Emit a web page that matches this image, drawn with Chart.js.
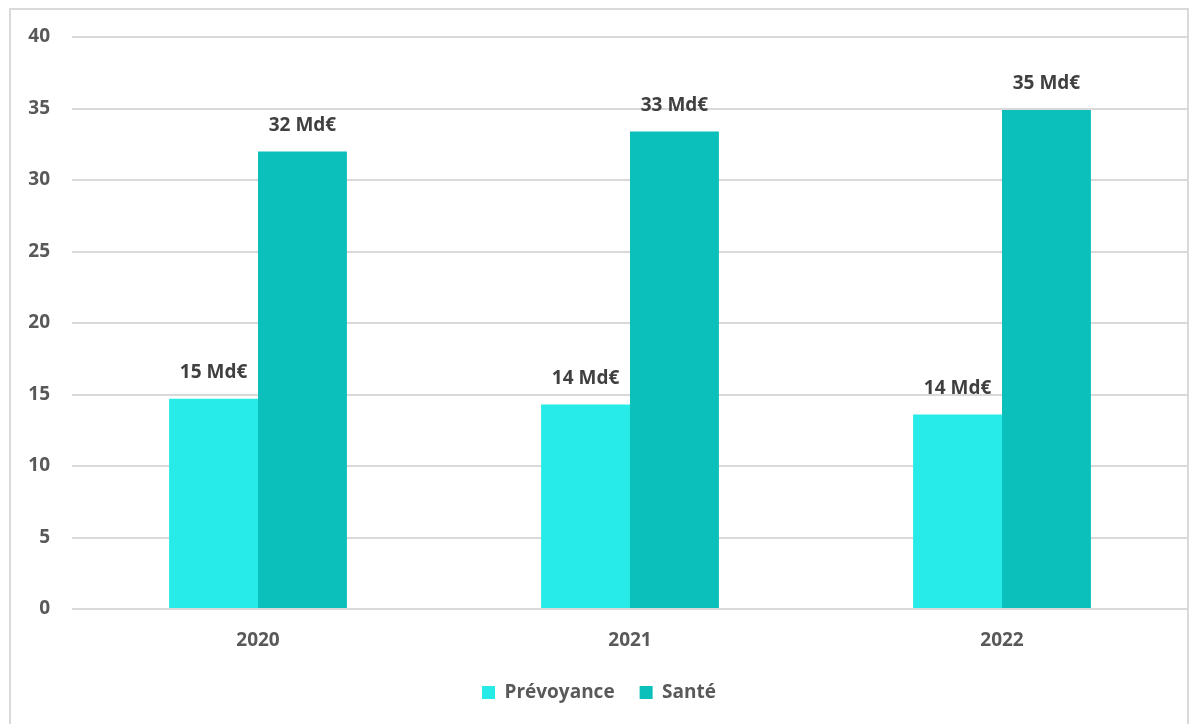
<!DOCTYPE html>
<html><head><meta charset="utf-8">
<script src="https://cdn.jsdelivr.net/npm/chart.js@4"></script>
<style>
html,body{margin:0;padding:0;background:#fff;}
#frame{position:absolute;left:9px;top:8px;width:1180px;height:730px;border:2px solid #d9d9d9;box-sizing:border-box;}
#wrap{position:absolute;left:0;top:0;width:1194px;height:724px;}
</style></head>
<body>
<div id="frame"></div>
<div id="wrap"><canvas id="c" width="1194" height="724"></canvas></div>
<script>
const categories = ['2020', '2021', '2022'];
const prevoyance = [14.7, 14.3, 13.6];
const sante = [32.0, 33.4, 34.9];
const prevoyanceLabels = ['15 Md€', '14 Md€', '14 Md€'];
const santeLabels = ['32 Md€', '33 Md€', '35 Md€'];
const yTicks = [0, 5, 10, 15, 20, 25, 30, 35, 40];

const FONT = "'Open Sans', 'Liberation Sans', sans-serif";

const labelPlugin = {
  id: 'barLabels',
  afterDatasetsDraw(chart) {
    const ctx = chart.ctx;
    ctx.save();
    ctx.font = "bold 19px " + FONT;
    ctx.fillStyle = '#404040';
    ctx.textAlign = 'center';
    ctx.textBaseline = 'middle';
    chart.data.datasets.forEach((ds, di) => {
      const meta = chart.getDatasetMeta(di);
      meta.data.forEach((bar, i) => {
        ctx.fillText(ds.valueLabels[i], bar.x, bar.y - 26);
      });
    });
    ctx.restore();
  }
};

new Chart(document.getElementById('c'), {
  type: 'bar',
  data: {
    labels: categories,
    datasets: [
      { label: 'Prévoyance', data: prevoyance, valueLabels: prevoyanceLabels, backgroundColor: '#27ebe6', categoryPercentage: 0.478, barPercentage: 1.0 },
      { label: 'Santé', data: sante, valueLabels: santeLabels, backgroundColor: '#0bbfba', categoryPercentage: 0.478, barPercentage: 1.0 }
    ]
  },
  options: {
    responsive: false,
    animation: false,
    layout: { padding: { left: 10, right: 6, top: 37, bottom: 12 } },
    plugins: {
      legend: {
        position: 'bottom',
        labels: { boxWidth: 13, boxHeight: 13, font: { family: FONT, size: 19, weight: 'bold' }, color: '#595959', padding: 25 }
      },
      tooltip: { enabled: false }
    },
    scales: {
      x: {
        grid: { display: false, drawTicks: false },
        border: { display: false },
        ticks: { font: { family: FONT, size: 19, weight: 'bold' }, color: '#595959', padding: 20 },
        afterFit(s) { s.height = 49; }
      },
      y: {
        min: 0, max: 40,
        afterBuildTicks(s) { s.ticks = yTicks.map(v => ({ value: v })); },
        grid: { color: '#d9d9d9', lineWidth: 2, drawTicks: false },
        border: { display: false },
        ticks: { font: { family: FONT, size: 19, weight: 'bold' }, color: '#595959', padding: 22 },
        afterFit(s) { s.width = 62; }
      }
    }
  },
  plugins: [labelPlugin]
});
</script>
</body></html>
